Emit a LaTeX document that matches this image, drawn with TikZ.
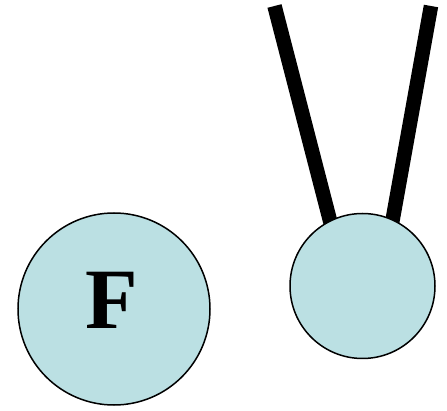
\documentclass[tikz,border=0pt]{standalone}
\usepackage{fontspec}
\setmainfont{Liberation Serif}
\definecolor{ballfill}{HTML}{BBE0E3}
\begin{document}
\begin{tikzpicture}[x=1pt,y=-1pt,
  ball/.style={circle,draw=black,line width=1.5pt,fill=ballfill,inner sep=0pt},
  rope/.style={line width=14.5pt,line cap=butt,black}]
\useasboundingbox (0,0) rectangle (447,411);
\coordinate (t1) at (274.5,6);
\coordinate (b1) at (335,240);
\coordinate (t2) at (431,6);
\coordinate (b2) at (389,240);
\draw[rope] (t1) -- (b1);
\draw[rope] (t2) -- (b2);
\node[ball,minimum size=192pt] (left) at (114,309) {};
\node[ball,minimum size=145pt] (right) at (362.5,286) {};
\node[inner sep=0pt,font=\fontsize{86}{90}\selectfont\bfseries] (f) at (112,300) {F};
\end{tikzpicture}
\end{document}
